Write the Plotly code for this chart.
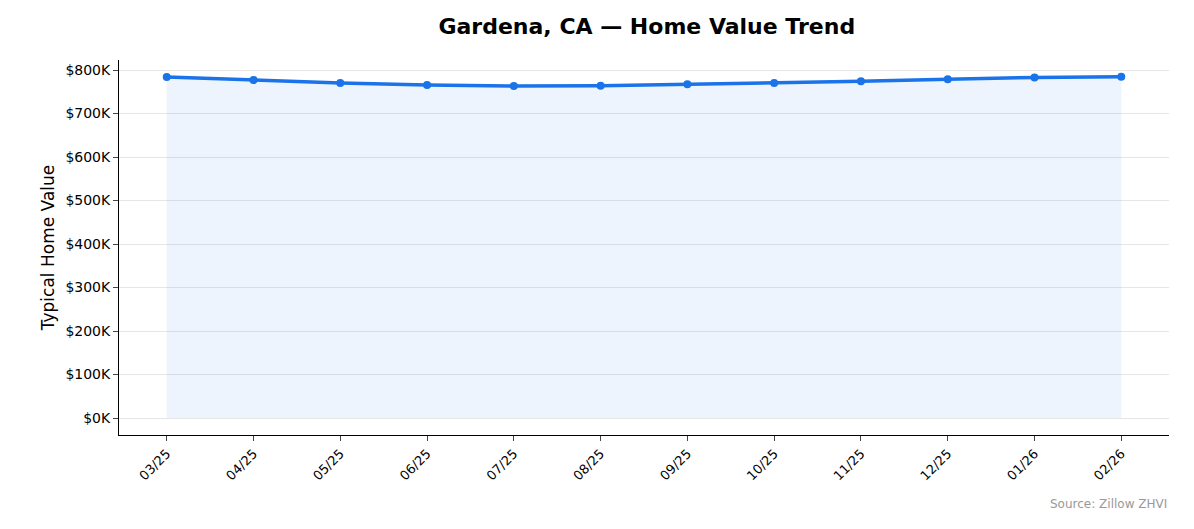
import plotly.graph_objects as go

months = ["03/25", "04/25", "05/25", "06/25", "07/25", "08/25",
          "09/25", "10/25", "11/25", "12/25", "01/26", "02/26"]
values = [784000, 777000, 770000, 765500, 763000, 764000,
          767000, 770000, 774000, 779000, 783000, 784500]

fig = go.Figure()
fig.add_trace(go.Scatter(
    x=list(range(len(months))), y=values,
    mode="lines+markers",
    line=dict(color="#1a73e8", width=3.5),
    marker=dict(size=8, color="#1a73e8"),
    fill="tozeroy", fillcolor="rgba(26,115,232,0.08)",
    hoverinfo="skip",
))

fig.update_layout(
    width=1194, height=529,
    paper_bgcolor="white", plot_bgcolor="white",
    margin=dict(l=111, r=33, t=52, b=102),
    showlegend=False,
    font=dict(family="DejaVu Sans", color="black"),
    title=dict(text="<b>Gardena, CA — Home Value Trend</b>",
               x=0.535, xanchor="center", y=0.965, yanchor="middle", font=dict(size=22)),
)
fig.update_xaxes(
    range=[-0.55, 11.55], tickvals=list(range(len(months))), ticktext=months,
    tickangle=-45, tickfont=dict(size=13), ticks="outside", ticklen=5,
    showline=True, linecolor="black", linewidth=1, showgrid=False, zeroline=False,
)
fig.update_yaxes(
    range=[-39000, 823000], tickvals=[i * 100000 for i in range(9)],
    ticktext=[f"${i * 100}K" for i in range(9)], tickfont=dict(size=14),
    ticks="outside", ticklen=5,
    showline=True, linecolor="black", linewidth=1,
    showgrid=True, gridcolor="#e6e6e6", zeroline=False,
    title=dict(text="Typical Home Value", font=dict(size=17), standoff=6),
)
fig.add_annotation(text="Source: Zillow ZHVI", xref="paper", yref="paper",
                   x=1.0, y=-0.16, xanchor="right", yanchor="top", showarrow=False,
                   font=dict(size=12, color="#999999"))

fig.write_html("out.html")
